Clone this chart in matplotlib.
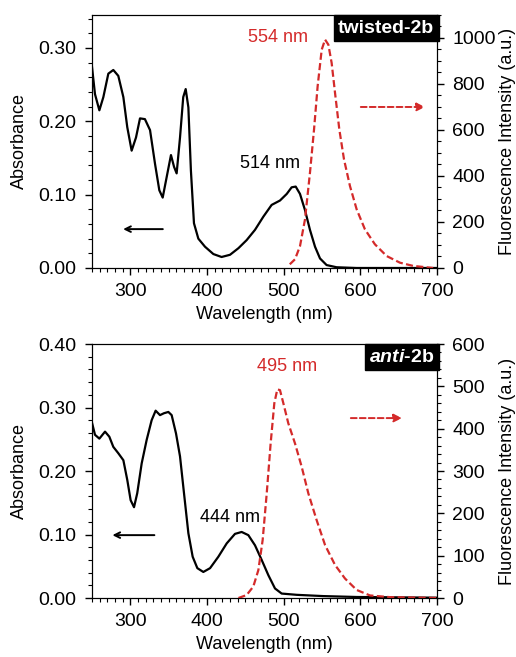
import matplotlib
matplotlib.use("Agg")
import matplotlib.pyplot as plt
from matplotlib.ticker import MultipleLocator, FormatStrFormatter

plt.rcParams["font.family"] = ["Liberation Sans", "DejaVu Sans"]
plt.rcParams["mathtext.fontset"] = "custom"
plt.rcParams["mathtext.rm"] = "Liberation Sans"
plt.rcParams["mathtext.it"] = "Liberation Sans:italic"
plt.rcParams["mathtext.bf"] = "Liberation Sans:bold"
plt.rcParams["mathtext.bfit"] = "Liberation Sans:italic:bold"

# --- twisted-2b (absorbance, left axis; fluorescence, right axis) ---
tw_abs_x = [249.6, 253.9, 259.6, 264.8, 271.3, 277.8, 284.3, 290.9, 296, 301.7, 307.4, 312.6, 319,
            325.7, 332.2, 337.8, 342.2, 347.4, 353, 357, 360.4, 364.8, 369, 372.2, 375.7, 379, 383,
            388.7, 397.4, 408.3, 419, 430, 441, 451.7, 462.6, 473.5, 484.3, 495.2, 504, 510.4,
            515.7, 521.3, 527.8, 534.3, 540.9, 547.4, 556, 569, 595, 650, 700]
tw_abs_y = [0.278, 0.237, 0.215, 0.233, 0.265, 0.270, 0.262, 0.233, 0.192, 0.160, 0.178, 0.204, 0.203,
            0.188, 0.142, 0.106, 0.096, 0.124, 0.154, 0.138, 0.129, 0.178, 0.233, 0.244, 0.219, 0.133, 0.061,
            0.040, 0.029, 0.019, 0.015, 0.018, 0.027, 0.038, 0.052, 0.070, 0.086, 0.092, 0.101, 0.110,
            0.111, 0.101, 0.079, 0.052, 0.029, 0.013, 0.004, 0.001, 0.0, 0.0, 0.0]
tw_fl_x = [508, 514.8, 521.3, 527.8, 534.3, 539.6, 544.3, 549.6, 554, 558.3, 562.6, 567, 572.6,
           578.7, 586.5, 595.2, 606, 619, 634.3, 651.7, 669, 695]
tw_fl_y = [16, 38, 95, 211, 414, 602, 790, 949, 993, 971, 891, 761, 602,
           472, 356, 255, 168, 103, 52, 23, 9, 0]

# --- anti-2b ---
an_abs_x = [249.6, 253.9, 259.6, 267, 272.6, 277.8, 284.3, 290.9, 296, 300.4, 304.8, 309, 314.8,
            321.3, 327.8, 333, 338.7, 343.9, 349.6, 353.9, 359.6, 364.8, 370, 375.7, 381.3, 387.4,
            395.2, 404, 414.8, 425.7, 436.5, 445.2, 453.9, 462.6, 471.3, 480, 488.7, 497.4, 517,
            551.7, 595, 699.6]
an_abs_y = [0.278, 0.257, 0.251, 0.262, 0.254, 0.238, 0.228, 0.217, 0.186, 0.154, 0.143, 0.165, 0.212,
            0.249, 0.280, 0.295, 0.288, 0.291, 0.293, 0.288, 0.259, 0.223, 0.165, 0.102, 0.065, 0.047,
            0.041, 0.047, 0.065, 0.086, 0.101, 0.104, 0.099, 0.083, 0.060, 0.036, 0.015, 0.007, 0.005,
            0.003, 0.0016, 0.0005]
an_fl_x = [441, 451.7, 460.4, 467, 472.6, 477.9, 483, 487.8, 491.7, 495.2, 499.6, 506, 514.8, 523.5,
           532.2, 543, 554, 567, 580, 595.2, 612.6, 638.7, 699.6]
an_fl_y = [0, 7, 27, 66, 137, 247, 365, 460, 493, 491, 460, 413, 365, 310,
           247, 184, 125, 78, 46, 19, 6, 2, 0]

RED = "#d42a2a"
FS = 13
TFS = 14
DASH = (0, (3.2, 1.5))


def panel(rect, ax_x, ax_y, fl_x, fl_y, ylim, rlim, rmajor, rminor,
          peak_abs, peak_fl, tag, larrow, rarrow):
    ax = fig.add_axes(rect)
    ax.plot(ax_x, ax_y, color="black", lw=1.6)
    ax.set_xlim(250, 700)
    ax.set_ylim(*ylim)
    ax.set_xticks([300, 400, 500, 600, 700])
    ax.xaxis.set_minor_locator(MultipleLocator(10))
    ax.yaxis.set_major_locator(MultipleLocator(0.1))
    ax.yaxis.set_minor_locator(MultipleLocator(0.02))
    ax.yaxis.set_major_formatter(FormatStrFormatter("%.2f"))
    ax.tick_params(which="major", length=5, width=1, labelsize=TFS, pad=6, direction="out")
    ax.tick_params(which="minor", length=3, width=0.8, direction="out")
    ax.set_xlabel("Wavelength (nm)", fontsize=FS, labelpad=4)
    ax.set_ylabel("Absorbance", fontsize=FS, labelpad=8)

    ax2 = ax.twinx()
    ax2.plot(fl_x, fl_y, color=RED, lw=1.6, ls=DASH)
    ax2.set_ylim(*rlim)
    ax2.yaxis.set_major_locator(MultipleLocator(rmajor))
    ax2.yaxis.set_minor_locator(MultipleLocator(rminor))
    ax2.tick_params(which="major", length=5, width=1, labelsize=TFS, pad=6, direction="out")
    ax2.tick_params(which="minor", length=3, width=0.8, direction="out")
    ax2.set_ylabel("Fluorescence Intensity (a.u.)", fontsize=FS)
    ax2.yaxis.set_label_coords(1.18, 0.5)

    ax.text(peak_abs[1], peak_abs[2], peak_abs[0], fontsize=FS, ha="center", va="center")
    ax2.text(peak_fl[1], peak_fl[2], peak_fl[0], fontsize=FS, ha="center", va="center", color=RED)

    ax.text(0.992, 0.982, tag, transform=ax.transAxes, fontsize=TFS, color="white",
            fontweight="bold", ha="right", va="top",
            bbox=dict(boxstyle="square,pad=0.22", fc="black", ec="black"))

    ax.annotate("", xy=(larrow[1], larrow[2]), xytext=(larrow[0], larrow[2]),
                arrowprops=dict(arrowstyle="->", color="black", lw=1.4))
    ax2.annotate("", xy=(rarrow[1], rarrow[2]), xytext=(rarrow[0], rarrow[2]),
                 arrowprops=dict(arrowstyle="-|>", color=RED, lw=1.4, ls=(0, (3, 1.6)),
                                 mutation_scale=12))
    return ax, ax2


fig = plt.figure(figsize=(5.16, 6.57), dpi=100)

panel([0.1783, 0.5921, 0.6686, 0.3851], tw_abs_x, tw_abs_y, tw_fl_x, tw_fl_y,
      (0, 0.345), (0, 1100), 200, 50,
      ("514 nm", 482, 0.142), ("554 nm", 493, 1000),
      "twisted-2b", (346, 287, 0.053), (597, 688, 700))

panel([0.1783, 0.0898, 0.6686, 0.3866], an_abs_x, an_abs_y, an_fl_x, an_fl_y,
      (0, 0.40), (0, 600), 100, 20,
      ("444 nm", 430, 0.126), ("495 nm", 504, 546),
      r"$\mathbfit{anti}$-2b", (335, 273, 0.099), (584, 658, 425))

fig.savefig("out.png", dpi=100)
